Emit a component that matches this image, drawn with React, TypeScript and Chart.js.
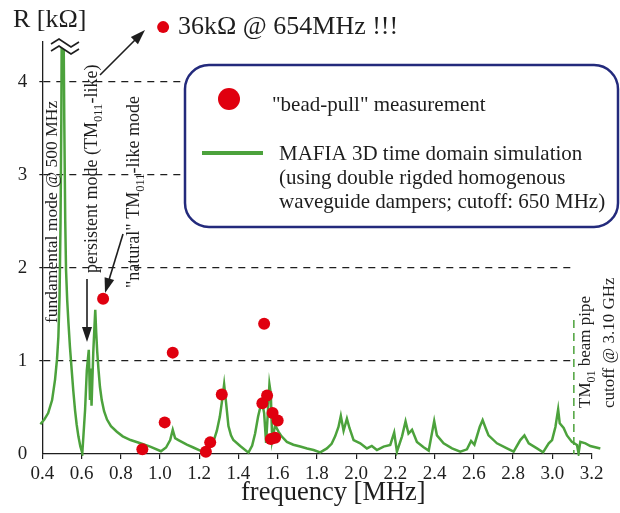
import React, { useEffect, useRef } from "react";
import { Chart, registerables } from "chart.js";

Chart.register(...registerables);

// ---------- data ----------
const xTickValues = [0.4, 0.6, 0.8, 1.0, 1.2, 1.4, 1.6, 1.8, 2.0, 2.2, 2.4, 2.6, 2.8, 3.0, 3.2];
const yTickValues = [0, 1, 2, 3, 4];

// MAFIA 3D time domain simulation (R in kOhm)
const simFreq = [
  0.39, 0.41, 0.43, 0.45, 0.465, 0.475, 0.482, 0.488, 0.493, 0.497, 0.502, 0.507, 0.512, 0.517, 0.521,
  0.527, 0.533, 0.541, 0.55, 0.558, 0.567, 0.575, 0.584, 0.594, 0.604,
  0.618, 0.627, 0.637, 0.643, 0.647, 0.651, 0.66, 0.67, 0.675, 0.68, 0.686, 0.694, 0.703, 0.715, 0.73,
  0.75, 0.78, 0.81, 0.85, 0.9, 0.95, 1.005,
  1.031, 1.052, 1.065, 1.077, 1.094, 1.137, 1.17, 1.205, 1.23, 1.25, 1.272, 1.29, 1.305, 1.315, 1.327,
  1.337, 1.349, 1.362, 1.374, 1.409, 1.451, 1.47, 1.485, 1.5, 1.511, 1.52, 1.531, 1.541, 1.55, 1.558,
  1.565, 1.572, 1.587, 1.604, 1.62, 1.647, 1.68, 1.715, 1.75, 1.783, 1.817, 1.851, 1.875, 1.893, 1.91,
  1.922, 1.936, 1.953, 1.966, 1.987, 2.021, 2.055, 2.08, 2.106, 2.14, 2.174, 2.194, 2.208, 2.234, 2.252,
  2.267, 2.285, 2.31, 2.344, 2.37, 2.398, 2.412, 2.446, 2.489, 2.531, 2.565, 2.586, 2.603, 2.63, 2.645,
  2.66, 2.675, 2.718, 2.769, 2.803, 2.837, 2.858, 2.88, 2.922, 2.953, 2.982, 2.999, 3.016, 3.03, 3.038,
  3.058, 3.075, 3.1, 3.126, 3.134, 3.143, 3.169, 3.194, 3.245,
];
const simR = [
  0.32, 0.37, 0.44, 0.58, 0.8, 1.02, 1.26, 1.7, 2.5, 3.6, 6.0, 5.0, 3.6, 2.5, 1.98,
  1.65, 1.42, 1.15, 0.9, 0.68, 0.47, 0.32, 0.19, 0.08, 0.01,
  0.47, 0.9, 1.12, 0.58, 0.92, 0.52, 1.1, 1.55, 1.3, 1.1, 0.92, 0.72, 0.58, 0.46, 0.37,
  0.3, 0.24, 0.19, 0.15, 0.115, 0.08, 0.03,
  0.07, 0.15, 0.26, 0.17, 0.15, 0.1, 0.07, 0.036, 0.02, 0.06, 0.13, 0.25, 0.4, 0.55, 0.75,
  0.55, 0.3, 0.2, 0.15, 0.086, 0.015, 0.09, 0.22, 0.4, 0.5, 0.56, 0.44, 0.12, 0.45, 0.75,
  0.65, 0.15, 0.31, 0.24, 0.19, 0.13, 0.1, 0.08, 0.06, 0.043, 0.018, 0.06, 0.11, 0.19, 0.29,
  0.41, 0.25, 0.38, 0.28, 0.15, 0.115, 0.06, 0.086, 0.043, 0.08, 0.097, 0.23, 0.025, 0.19, 0.35,
  0.22, 0.26, 0.13, 0.072, 0.036, 0.355, 0.2, 0.115, 0.06, 0.025, 0.05, 0.14, 0.1, 0.29, 0.365,
  0.28, 0.2, 0.115, 0.06, 0.025, 0.15, 0.2, 0.115, 0.06, 0.018, 0.115, 0.15, 0.29, 0.48, 0.33,
  0.28, 0.2, 0.13, 0.097, 0.008, 0.13, 0.115, 0.086, 0.06,
];

// "bead-pull" measurement
const measFreq = [0.71, 0.91, 1.024, 1.065, 1.234, 1.256, 1.315, 1.522, 1.531, 1.546, 1.565, 1.574, 1.587, 1.6];
const measR = [1.67, 0.05, 0.34, 1.09, 0.025, 0.125, 0.64, 0.545, 1.4, 0.63, 0.16, 0.44, 0.175, 0.36];

// off-scale marker next to the "36kΩ @ 654MHz !!!" note
const offscaleFreq = [1.016];
const offscaleR = [4.59];

const cutoffFreq = 3.11;

// ---------- styles ----------
const SERIF = '"Liberation Serif", "Times New Roman", serif';
const GREEN = "#4ca23c";
const RED = "#e0000f";
const NAVY = "#232a7c";
const INK = "#1e1e1e";

type Seg = [string, boolean];

function drawRich(ctx: CanvasRenderingContext2D, x: number, y: number, segs: Seg[], size: number, rotated: boolean) {
  ctx.save();
  ctx.translate(x, y);
  if (rotated) ctx.rotate(-Math.PI / 2);
  ctx.textBaseline = "alphabetic";
  ctx.textAlign = "left";
  ctx.fillStyle = INK;
  let cx = 0;
  for (const [t, sub] of segs) {
    const fs = sub ? size * 0.7 : size;
    ctx.font = `${fs}px ${SERIF}`;
    ctx.fillText(t, cx, sub ? size * 0.3 : 0);
    cx += ctx.measureText(t).width;
  }
  ctx.restore();
}

function drawArrow(ctx: CanvasRenderingContext2D, x1: number, y1: number, x2: number, y2: number) {
  const a = Math.atan2(y2 - y1, x2 - x1);
  const hl = 15;
  const hw = 5;
  ctx.save();
  ctx.strokeStyle = INK;
  ctx.fillStyle = INK;
  ctx.lineWidth = 1.6;
  ctx.beginPath();
  ctx.moveTo(x1, y1);
  ctx.lineTo(x2 - hl * 0.8 * Math.cos(a), y2 - hl * 0.8 * Math.sin(a));
  ctx.stroke();
  ctx.beginPath();
  ctx.moveTo(x2, y2);
  ctx.lineTo(x2 - hl * Math.cos(a) + hw * Math.sin(a), y2 - hl * Math.sin(a) - hw * Math.cos(a));
  ctx.lineTo(x2 - hl * Math.cos(a) - hw * Math.sin(a), y2 - hl * Math.sin(a) + hw * Math.cos(a));
  ctx.closePath();
  ctx.fill();
  ctx.restore();
}

const annotations = {
  id: "annotations",
  afterDraw(chart: any) {
    const ctx: CanvasRenderingContext2D = chart.ctx;
    const xs = chart.scales.x;
    const ys = chart.scales.y;
    ctx.save();

    // cutoff dashed line
    const cx = xs.getPixelForValue(cutoffFreq);
    ctx.save();
    ctx.strokeStyle = GREEN;
    ctx.lineWidth = 1.5;
    ctx.setLineDash([8, 5]);
    ctx.beginPath();
    ctx.moveTo(cx, 320);
    ctx.lineTo(cx, ys.getPixelForValue(0));
    ctx.stroke();
    ctx.restore();

    // white panel behind cutoff text
    ctx.fillStyle = "#fff";
    ctx.fillRect(cx + 2, 258, 620 - cx, 156);
    drawRich(ctx, 590, 408, [["TM", false], ["01", true], [" beam pipe", false]], 17, true);
    drawRich(ctx, 614, 408, [["cutoff @ 3.10 GHz", false]], 17, true);

    // legend box
    ctx.save();
    ctx.beginPath();
    (ctx as any).roundRect(185, 65, 433, 162, 24);
    ctx.fillStyle = "#fff";
    ctx.fill();
    ctx.strokeStyle = NAVY;
    ctx.lineWidth = 2.5;
    ctx.stroke();
    ctx.restore();

    ctx.fillStyle = RED;
    ctx.beginPath();
    ctx.arc(229, 99, 11, 0, Math.PI * 2);
    ctx.fill();
    drawRich(ctx, 272, 111, [['"bead-pull" measurement', false]], 21, false);

    ctx.strokeStyle = GREEN;
    ctx.lineWidth = 4;
    ctx.beginPath();
    ctx.moveTo(202, 153);
    ctx.lineTo(263, 153);
    ctx.stroke();
    drawRich(ctx, 279, 160, [["MAFIA 3D time domain simulation", false]], 21, false);
    drawRich(ctx, 279, 184, [["(using double rigded homogenous", false]], 21, false);
    drawRich(ctx, 279, 208, [["waveguide dampers; cutoff: 650 MHz)", false]], 21, false);

    // break symbol on the fundamental peak
    ctx.save();
    const zig = (y0: number) => [
      [51, y0 + 5],
      [59, y0],
      [71, y0 + 8],
      [79, y0 + 3],
    ];
    const top = zig(39);
    const bot = zig(46);
    ctx.beginPath();
    top.forEach((p, i) => (i ? ctx.lineTo(p[0], p[1]) : ctx.moveTo(p[0], p[1])));
    for (let i = bot.length - 1; i >= 0; i--) ctx.lineTo(bot[i][0], bot[i][1]);
    ctx.closePath();
    ctx.fillStyle = "#fff";
    ctx.fill();
    ctx.strokeStyle = INK;
    ctx.lineWidth = 1.6;
    for (const line of [top, bot]) {
      ctx.beginPath();
      line.forEach((p, i) => (i ? ctx.lineTo(p[0], p[1]) : ctx.moveTo(p[0], p[1])));
      ctx.stroke();
    }
    ctx.restore();

    // off-scale measurement marker (36 kΩ)
    ctx.fillStyle = RED;
    offscaleFreq.forEach((f, i) => {
      ctx.beginPath();
      ctx.arc(xs.getPixelForValue(f), ys.getPixelForValue(offscaleR[i]), 6, 0, Math.PI * 2);
      ctx.fill();
    });

    // vertical annotations
    drawRich(ctx, 57, 323, [["fundamental mode @ 500 MHz", false]], 17.5, true);
    drawRich(ctx, 97, 273, [["persistent mode (TM", false], ["011", true], ["-like)", false]], 18, true);
    drawRich(ctx, 139, 288, [['"natural" TM', false], ["011", true], ["-like mode", false]], 18, true);

    // arrows
    drawArrow(ctx, 87, 279, 87, 342);
    drawArrow(ctx, 123, 234, 105, 293);
    drawArrow(ctx, 100, 75, 145, 30);

    // titles
    drawRich(ctx, 13, 27, [["R [kΩ]", false]], 26, false);
    drawRich(ctx, 178, 34, [["36kΩ @ 654MHz !!!", false]], 26, false);
    drawRich(ctx, 241, 500, [["frequency [MHz]", false]], 26.5, false);

    ctx.restore();
  },
};

export default function App() {
  const ref = useRef<HTMLCanvasElement | null>(null);

  useEffect(() => {
    if (!ref.current) return;
    const simData = simFreq.map((f, i) => ({ x: f, y: simR[i] }));
    const measData = measFreq.map((f, i) => ({ x: f, y: measR[i] }));

    const chart = new Chart(ref.current, {
      type: "line",
      data: {
        datasets: [
          {
            label: "MAFIA 3D time domain simulation",
            data: simData,
            borderColor: GREEN,
            borderWidth: 2.5,
            pointRadius: 0,
            tension: 0,
            clip: { left: 3, top: 0, right: 12, bottom: 2 } as any,
            order: 2,
          },
          {
            label: '"bead-pull" measurement',
            data: measData,
            showLine: false,
            pointRadius: 6,
            pointBackgroundColor: RED,
            pointBorderColor: RED,
            pointBorderWidth: 0,
            clip: false as any,
            order: 1,
          },
        ],
      },
      options: {
        responsive: false,
        animation: false,
        events: [],
        layout: { padding: { left: 0, top: 42, right: 28.5, bottom: 0 } },
        plugins: { legend: { display: false }, tooltip: { enabled: false }, title: { display: false } },
        scales: {
          x: {
            type: "linear",
            min: 0.4,
            max: 3.2,
            afterBuildTicks: (s: any) => {
              s.ticks = xTickValues.map((v) => ({ value: v }));
            },
            afterFit: (s: any) => {
              s.height = 59;
            },
            ticks: {
              callback: (v: any) => Number(v).toFixed(1),
              font: { family: SERIF, size: 19 },
              color: INK,
              padding: 4,
              maxRotation: 0,
              autoSkip: false,
            },
            grid: { drawOnChartArea: false, drawTicks: true, tickLength: 5, color: INK, lineWidth: 1.2 },
            border: { color: INK, width: 1.3 },
          },
          y: {
            type: "linear",
            min: 0,
            max: 4.43,
            afterBuildTicks: (s: any) => {
              s.ticks = yTickValues.map((v) => ({ value: v }));
            },
            afterFit: (s: any) => {
              s.width = 42.3;
            },
            ticks: {
              font: { family: SERIF, size: 19 },
              color: INK,
              padding: 12,
            },
            grid: {
              color: (c: any) => (c.tick && c.tick.value === 0 ? "rgba(0,0,0,0)" : INK),
              lineWidth: 1.2,
              tickLength: 3,
            },
            border: { color: INK, width: 1.3, dash: [7, 6] },
          },
        },
      },
      plugins: [annotations],
    });
    return () => chart.destroy();
  }, []);

  return (
    <div style={{ position: "fixed", left: 0, top: 0, width: 620, height: 513, background: "#fff" }}>
      <canvas ref={ref} width={620} height={513} style={{ display: "block" }} />
    </div>
  );
}
